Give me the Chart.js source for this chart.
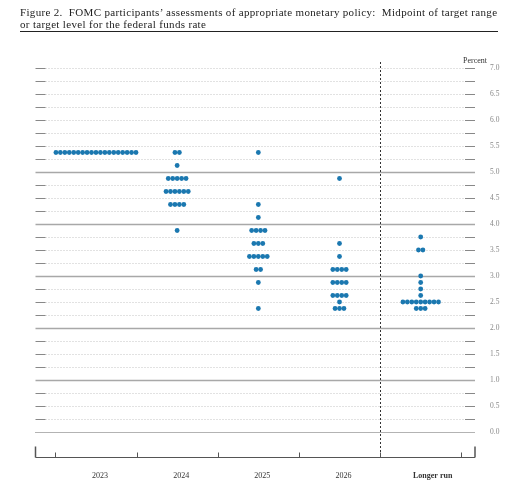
<!DOCTYPE html>
<html>
<head>
<meta charset="utf-8">
<script src="https://cdn.jsdelivr.net/npm/chart.js@4"></script>
<style>
  body { margin: 0; background: #fff; }
  #wrap { position: relative; width: 523px; height: 491px; }
  #title {
    position: absolute; left: 20px; top: 6px; width: 478px;
    font-family: "Liberation Serif", "DejaVu Serif", serif;
    font-size: 11px; line-height: 12px; color: #222; letter-spacing: 0.33px;
    white-space: nowrap;
    padding-bottom: 1px; border-bottom: 1.5px solid #222;
  }
  canvas { position: absolute; left: 0; top: 0; }
</style>
</head>
<body>
<div id="wrap">
  <canvas id="dots" width="523" height="491"></canvas>
  <div id="title">Figure 2.&nbsp; FOMC participants&rsquo; assessments of appropriate monetary policy:&nbsp; Midpoint of target range<br>or target level for the federal funds rate</div>
</div>
<script>
/* [ Data ] */
const years = ['2023', '2024', '2025', '2026', 'Longer run'];

const rates2023 = [5.375];
const counts2023 = [19];

const rates2024 = [5.375, 5.125, 4.875, 4.625, 4.375, 3.875];
const counts2024 = [2, 1, 5, 6, 4, 1];

const rates2025 = [5.375, 4.375, 4.125, 3.875, 3.625, 3.375, 3.125, 2.875, 2.375];
const counts2025 = [1, 1, 1, 4, 3, 5, 2, 1, 1];

const rates2026 = [4.875, 3.625, 3.375, 3.125, 2.875, 2.625, 2.5, 2.375];
const counts2026 = [1, 1, 1, 4, 4, 4, 1, 3];

const ratesLonger = [3.75, 3.5, 3.0, 2.875, 2.75, 2.625, 2.5, 2.375];
const countsLonger = [1, 2, 1, 1, 1, 1, 9, 3];

const yTickLabels = ['0.0', '0.5', '1.0', '1.5', '2.0', '2.5', '3.0', '3.5', '4.0', '4.5', '5.0', '5.5', '6.0', '6.5', '7.0'];

/* [ Build points ] */
const allRates = [rates2023, rates2024, rates2025, rates2026, ratesLonger];
const allCounts = [counts2023, counts2024, counts2025, counts2026, countsLonger];
const dotStep = 0.0548; // spacing of dots side by side, in x units

var points = [];
for (var i = 0; i < years.length; i++) {
  for (var k = 0; k < allRates[i].length; k++) {
    var n = allCounts[i][k];
    for (var j = 0; j < n; j++) {
      points.push({ x: (i + 1) + (j - (n - 1) / 2) * dotStep, y: allRates[i][k] });
    }
  }
}

/* [ Frame: grid, axis, labels ] */
const serif = '"Liberation Serif", "DejaVu Serif", serif';

const framePlugin = {
  id: 'frame',
  beforeDatasetsDraw(chart) {
    const c = chart.ctx;
    const xs = chart.scales.x, ys = chart.scales.y;
    const L = xs.left, R = xs.right;
    c.save();

    // horizontal lines every 0.25
    for (var v = 0; v <= 7.0001; v += 0.25) {
      var y = Math.round(ys.getPixelForValue(v)) + 0.5;
      var whole = Math.abs(v - Math.round(v)) < 1e-6;
      if (v === 0) {
        c.strokeStyle = '#666'; c.lineWidth = 1; c.setLineDash([1, 1]);
        c.beginPath(); c.moveTo(L, y); c.lineTo(R, y); c.stroke();
      } else if (whole && v <= 5) {
        c.strokeStyle = '#a8a8a8'; c.lineWidth = 1.5; c.setLineDash([]);
        c.beginPath(); c.moveTo(L, y); c.lineTo(R, y); c.stroke();
      } else {
        c.strokeStyle = '#c4c4c4'; c.lineWidth = 1; c.setLineDash([1, 2]);
        c.beginPath(); c.moveTo(L + 10, y); c.lineTo(R - 10, y); c.stroke();
        c.setLineDash([]);
        c.strokeStyle = '#888';
        c.beginPath(); c.moveTo(L, y); c.lineTo(L + 10, y); c.moveTo(R - 10, y); c.lineTo(R, y); c.stroke();
      }
    }
    c.setLineDash([]);

    // y labels on right
    c.fillStyle = '#888';
    c.font = '7.5px ' + serif;
    c.textAlign = 'left';
    c.textBaseline = 'middle';
    for (var t = 0; t < yTickLabels.length; t++) {
      c.fillText(yTickLabels[t], R + 15, ys.getPixelForValue(parseFloat(yTickLabels[t])));
    }
    c.fillStyle = '#333';
    c.font = '8px ' + serif;
    c.textAlign = 'center';
    c.fillText('Percent', R, ys.getPixelForValue(7) - 7);

    // vertical dashed separator before longer run
    var sx = Math.round(xs.getPixelForValue(4.5)) + 0.5;
    var axisY = 457.5;
    c.strokeStyle = '#333'; c.lineWidth = 1; c.setLineDash([2, 2]);
    c.beginPath(); c.moveTo(sx, ys.getPixelForValue(7) - 6); c.lineTo(sx, axisY); c.stroke();
    c.setLineDash([]);

    // bottom axis
    c.strokeStyle = '#555'; c.lineWidth = 1;
    c.beginPath(); c.moveTo(L, axisY); c.lineTo(R, axisY); c.stroke();
    c.lineWidth = 1.5;
    c.beginPath();
    c.moveTo(L, axisY); c.lineTo(L, axisY - 11);
    c.moveTo(R, axisY); c.lineTo(R, axisY - 11);
    c.stroke();
    c.lineWidth = 1;
    c.beginPath();
    for (var m = 0.5; m <= 5.5; m += 1) {
      var tx = Math.round(xs.getPixelForValue(m)) + 0.5;
      c.moveTo(tx, axisY); c.lineTo(tx, axisY - 5);
    }
    c.stroke();

    // year labels
    c.fillStyle = '#333';
    c.textBaseline = 'middle';
    for (var i = 0; i < years.length; i++) {
      var last = i === years.length - 1;
      c.font = (last ? 'bold ' : '') + '8px ' + serif;
      c.fillText(years[i], xs.getPixelForValue(i + 1) + (last ? 12 : 4), 476);
    }
    c.restore();
  }
};

/* [ Chart ] */
const ctx = document.getElementById('dots').getContext('2d');
let dotChart = new Chart(ctx, {
  type: 'scatter',
  data: {
    datasets: [{
      data: points,
      backgroundColor: '#1b78b0',
      borderWidth: 0,
      pointRadius: 2.4,
      pointHoverRadius: 2.4
    }]
  },
  options: {
    responsive: false,
    animation: false,
    devicePixelRatio: 1,
    layout: { padding: { left: 35.5, right: 48, top: 68, bottom: 59 } },
    plugins: { legend: { display: false }, tooltip: { enabled: false } },
    scales: {
      x: { type: 'linear', min: 0.255, max: 5.669, display: false },
      y: { type: 'linear', min: 0, max: 7, display: false }
    }
  },
  plugins: [framePlugin]
});
</script>
</body>
</html>
